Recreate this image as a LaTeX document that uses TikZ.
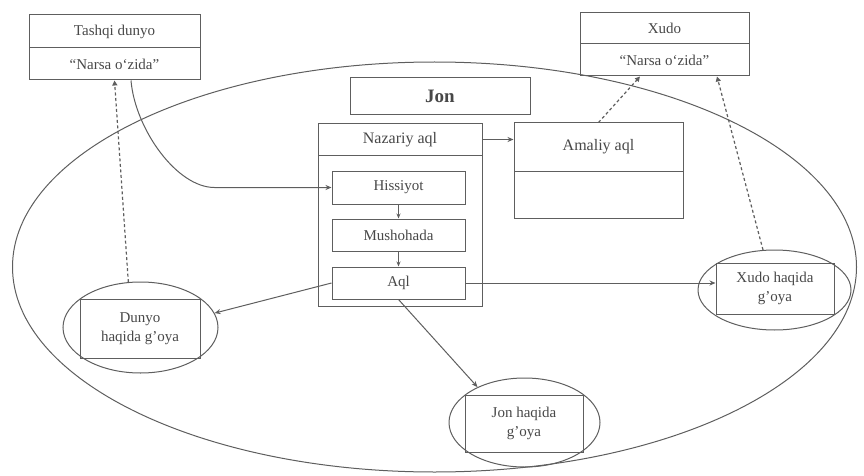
\documentclass[tikz,border=0pt]{standalone}
\usepackage{fontspec}
\setmainfont{Liberation Serif}
\usetikzlibrary{shapes.geometric,arrows.meta}
\definecolor{ln}{HTML}{5E5E5E}
\definecolor{tx}{HTML}{484848}
\begin{document}
\begin{tikzpicture}[x=1pt,y=-1pt,
  line width=1pt,
  box/.style={draw=ln, rectangle, inner sep=0pt, text=tx, align=center, font=\fontsize{15}{19}\selectfont},
  oval/.style={draw=ln, ellipse, inner sep=0pt},
  conn/.style={draw=ln, line width=1pt},
  tip/.style={-{Stealth[length=6pt,width=5pt]}},
  smalltip/.style={-{Stealth[length=5pt,width=4pt]}},
  dsh/.style={draw=ln, line width=1.2pt, dash pattern=on 3pt off 2.5pt, -{Triangle[length=5pt,width=5pt]}}
]
\useasboundingbox (0,0) rectangle (864,476);
\node[oval, minimum width=844pt, minimum height=410pt] (soul) at (434.5,267) {};

\node[box, minimum width=171pt, minimum height=33pt] (tdTop) at (114.5,31.5) {Tashqi dunyo};
\node[box, minimum width=171pt, minimum height=32pt] (tdBot) at (114.5,64) {“Narsa o‘zida”};
\node[box, minimum width=169pt, minimum height=31pt] (xTop) at (664.5,28.5) {Xudo};
\node[box, minimum width=169pt, minimum height=32pt] (xBot) at (664.5,60) {“Narsa o‘zida”};
\node[box, minimum width=180pt, minimum height=37pt, font=\bfseries\fontsize{19}{22}\selectfont] (jon) at (440,96.5) {Jon};
\node[box, minimum width=164pt, minimum height=31pt, font=\fontsize{16}{19}\selectfont] (nTop) at (400,139.5) {Nazariy aql};
\node[box, minimum width=164pt, minimum height=151pt] (nBody) at (400,230.5) {};
\node[box, minimum width=133pt, minimum height=33pt] (hiss) at (398.5,187.5) {Hissiyot};
\node[box, minimum width=133pt, minimum height=32pt] (mush) at (398.5,235) {Mushohada};
\node[box, minimum width=133pt, minimum height=32pt] (aql) at (398.5,283) {Aql};
\node[box, minimum width=169pt, minimum height=48pt, font=\fontsize{16}{19}\selectfont] (aTop) at (598.5,147) {Amaliy aql};
\node[box, minimum width=169pt, minimum height=47pt] (aBot) at (598.5,194.5) {};

\node[oval, minimum width=155pt, minimum height=91pt] (dE) at (140.5,327.5) {};
\node[box, minimum width=120pt, minimum height=59pt] (dB) at (140,328.5) {Dunyo\\haqida g’oya};
\node[oval, minimum width=151pt, minimum height=89pt] (jE) at (524.5,422.5) {};
\node[box, minimum width=118pt, minimum height=57pt] (jB) at (524,423.5) {Jon haqida\\g’oya};
\node[oval, minimum width=153pt, minimum height=80pt] (xE) at (774.5,290) {};
\node[box, minimum width=118pt, minimum height=51pt] (xB) at (775,288.5) {Xudo haqida\\g’oya};

\draw[conn, tip] ([xshift=16.5pt]tdBot.south) .. controls +(4,48) and ([xshift=-155pt]hiss.west) .. ([xshift=-117pt]hiss.west) -- (hiss.west);
\draw[conn, smalltip] (hiss) -- (mush);
\draw[conn, smalltip] (mush) -- (aql);
\draw[conn, tip] (nTop.east) -- (aTop.west |- nTop.east);
\draw[conn, tip] (aql.west) -- (dE.11);
\draw[conn, tip] (aql.east) -- (aql.east -| xB.west);
\draw[conn, tip] (aql.south) -- (jE.143);
\draw[dsh] (dE.105) -- (tdBot.south);
\draw[dsh] (aTop.north) -- ([xshift=-24.5pt]xBot.south);
\draw[dsh] (xE.106) -- ([xshift=52.5pt]xBot.south);
\end{tikzpicture}
\end{document}
